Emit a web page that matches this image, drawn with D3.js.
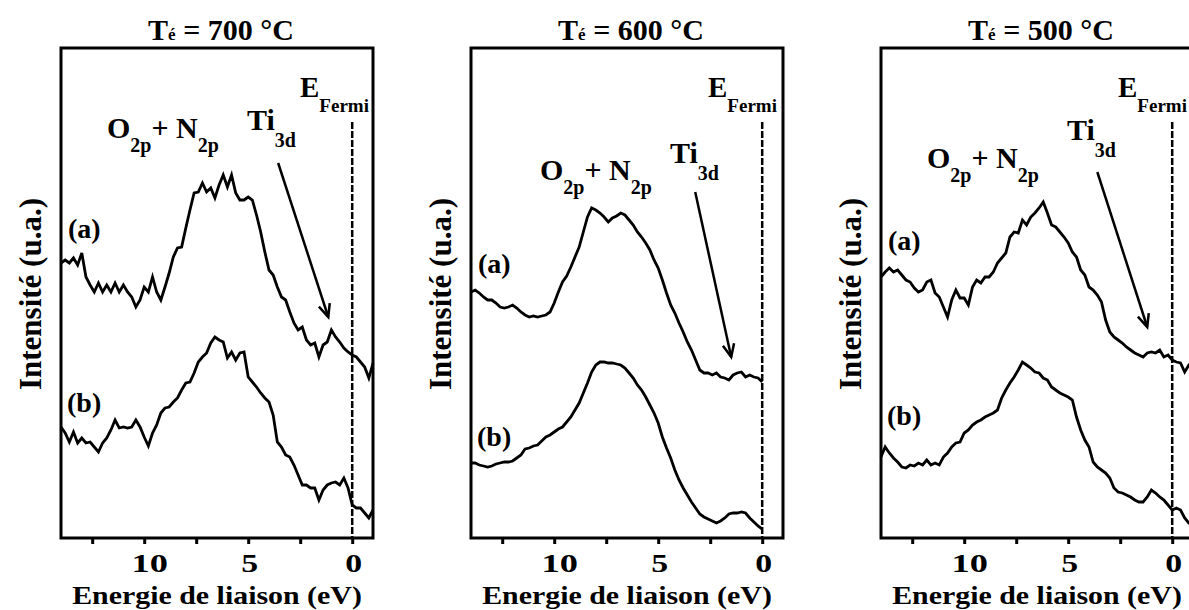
<!DOCTYPE html>
<html><head><meta charset="utf-8">
<script src="https://cdn.jsdelivr.net/npm/d3@7/dist/d3.min.js"></script>
<style>
html,body{margin:0;padding:0;background:#fff;}
text{font-family:"Liberation Serif","Times New Roman",serif;font-weight:bold;fill:#000;}
</style></head>
<body>
<svg id="chart" width="1189" height="610"></svg>
<script>
// ---------- data ----------
const energy = [14.0,13.8,13.6,13.4,13.2,13.0,12.8,12.6,12.4,12.2,12.0,11.8,11.6,11.4,11.2,11.0,10.8,10.6,10.4,10.2,10.0,9.8,9.6,9.4,9.2,9.0,8.8,8.6,8.4,8.2,8.0,7.8,7.6,7.4,7.2,7.0,6.8,6.6,6.4,6.2,6.0,5.8,5.6,5.4,5.2,5.0,4.8,4.6,4.4,4.2,4.0,3.8,3.6,3.4,3.2,3.0,2.8,2.6,2.4,2.2,2.0,1.8,1.6,1.4,1.2,1.0,0.8,0.6,0.4,0.2,0.0,-0.2,-0.4,-0.6,-0.8,-1.0];

const a700 = [275,278,275,280,273,285,261,253,246,255, 246,253,246,255,246,253,246,241,231,238, 251,246,261,246,238,251,265,281,290,291, 310,328,345,346,355,346,350,340,353,363, 351,363,345,338,338,341,338,323,306,286, 268,263,251,241,238,226,215,208,211,198, 193,195,181,193,196,208,201,196,190,186, 183,181,176,171,160,175];
const b700 = [111,105,96,106,95,100,95,96,91,86, 95,100,108,118,110,111,110,111,118,111, 101,92,105,113,125,130,131,136,140,148, 155,156,165,176,181,185,195,201,198,196, 180,186,178,185,186,161,156,151,145,140, 136,123,96,91,83,81,73,63,53,53, 50,50,38,48,53,55,56,53,60,50, 33,30,30,25,20,28];
const a600 = [246,248,245,241,238,238,235,231,230,231, 233,230,226,223,221,222,221,222,223,226, 235,246,256,262,271,281,291,306,321,330, 328,325,321,316,320,322,325,323,318,313, 306,301,295,288,278,270,258,245,233,225, 215,206,196,188,178,168,165,165,163,165, 161,160,158,163,165,166,161,163,161,160, 156,null,null,null,null,null];
const b600 = [75,75,73,72,71,72,74,75,76,76, 77,80,83,89,90,92,93,97,101,103, 106,109,111,116,121,128,135,145,155,166, 173,176,176,175,175,174,173,170,165,160, 153,148,141,133,125,115,101,90,80,68, 58,50,43,36,30,24,21,19,17,15, 17,20,24,25,25,26,25,20,16,12, 9,null,null,null,null,null];
const a500 = [261,266,270,266,268,263,258,256,250,246, 248,256,258,245,241,231,221,238,248,240, 240,233,251,258,255,261,261,266,275,280, 285,301,306,305,318,313,321,325,330,336, 325,313,311,306,301,295,286,281,268,263, 251,248,243,236,218,206,201,198,195,191, 188,185,183,181,185,186,185,188,181,183, 178,176,175,166,173,171];
const b500 = [81,91,85,80,76,71,70,73,72,75, 73,78,73,75,73,81,85,91,95,96, 105,108,113,116,118,121,123,125,128,140, 148,155,161,168,176,173,170,166,165,160, 158,151,148,145,143,141,138,121,108,98, 91,76,71,68,65,60,50,46,45,43, 41,38,36,36,41,48,45,41,38,33, 28,30,28,20,15,13];

const temperatures = ["700", "600", "500"];
const seriesA = [a700, a600, a500];
const seriesB = [b700, b600, b500];
const tickValues = [12.5, 10, 7.5, 5, 2.5, 0];
const tickLabels = {10: "10", 5: "5", 0: "0"};
// Ti3d arrow (start energy/intensity -> end energy/intensity)
const arrowFrom = [[3.56, 375], [3.22, 346], [3.60, 366]];
const arrowTo   = [[1.15, 221], [1.49, 181], [1.20, 211]];

// ---------- layout ----------
const svg = d3.select("#chart");
const panelLeft = [61, 471, 881];
const PW = 312, TOP = 48, BOTTOM = 538;
const layout = [
  {o:[46,138], ti:[186,130], e:[239,97], a:238, b:412},
  {o:[69,180], ti:[199,163], e:[237,97], a:273, b:446},
  {o:[46,168], ti:[186,140], e:[237,97], a:250, b:425}
];

temperatures.forEach((t, i) => {
  const L = panelLeft[i];
  const x = d3.scaleLinear().domain([14, -1]).range([L, L + PW]);
  const y = d3.scaleLinear().domain([0, 490]).range([BOTTOM, TOP]);
  const g = svg.append("g");
  const lay = layout[i];

  // title
  const tt = g.append("text").attr("x", L + PW/2 + 4).attr("y", 40)
    .attr("text-anchor", "middle").style("font-size", "30px");
  tt.append("tspan").text("T");
  tt.append("tspan").style("font-size", "17px").text("é");
  tt.append("tspan").text(" = " + t + " °C");

  // Fermi dashed line
  g.append("line").attr("x1", x(0)).attr("x2", x(0)).attr("y1", 122).attr("y2", BOTTOM)
    .attr("stroke", "#000").attr("stroke-width", 2.5).attr("stroke-dasharray", "7,2");

  // curves
  const line = d3.line().defined(d => d[1] !== null).x(d => x(d[0])).y(d => y(d[1]));
  [seriesA[i], seriesB[i]].forEach(s => {
    g.append("path").datum(energy.map((e, k) => [e, s[k]]))
      .attr("d", line).attr("fill", "none").attr("stroke", "#000")
      .attr("stroke-width", 2.8).attr("stroke-linejoin", "miter");
  });

  // frame
  g.append("rect").attr("x", L).attr("y", TOP).attr("width", PW).attr("height", BOTTOM - TOP)
    .attr("fill", "none").attr("stroke", "#000").attr("stroke-width", 3);

  // axis
  const ax = g.append("g").attr("transform", `translate(0,${BOTTOM})`)
    .call(d3.axisBottom(x).tickValues(tickValues).tickSizeInner(6).tickSizeOuter(0)
      .tickFormat(d => tickLabels[d] || ""));
  ax.select(".domain").remove();
  ax.selectAll(".tick line").attr("stroke", "#000").attr("stroke-width", 3);
  ax.selectAll(".tick text").attr("y", 0).attr("dy", 0)
    .attr("transform", d => d === 10 ? "translate(5,34) scale(1.4,1)" : "translate(1,34) scale(1.3,1)")
    .style("font-size", "26px").style("font-family", "Liberation Serif").style("font-weight", "bold");

  // x label
  g.append("text").attr("transform", `translate(${L + PW/2},604) scale(1.15,1)`)
    .attr("text-anchor", "middle").style("font-size", "26px").text("Energie de liaison (eV)");

  // y label
  g.append("text").attr("transform", `translate(${L - 20},${(TOP + BOTTOM)/2 + 1}) rotate(-90)`)
    .attr("text-anchor", "middle").style("font-size", "31px").text("Intensité (u.a.)");

  // (a) (b)
  g.append("text").attr("x", L + 7).attr("y", lay.a).style("font-size", "28px").text("(a)");
  g.append("text").attr("x", L + 6).attr("y", lay.b).style("font-size", "28px").text("(b)");

  // O2p + N2p
  const on = g.append("text").attr("x", L + lay.o[0]).attr("y", lay.o[1]).style("font-size", "30px");
  on.append("tspan").text("O");
  on.append("tspan").attr("dy", 14).style("font-size", "20px").text("2p");
  on.append("tspan").attr("dy", -14).text("+ N");
  on.append("tspan").attr("dy", 14).style("font-size", "20px").text("2p");

  // Ti3d
  const ti = g.append("text").attr("x", L + lay.ti[0]).attr("y", lay.ti[1]).style("font-size", "30px");
  ti.append("tspan").text("Ti");
  ti.append("tspan").attr("dy", 17).style("font-size", "20px").text("3d");

  // E Fermi
  const ef = g.append("text").attr("x", L + lay.e[0]).attr("y", lay.e[1]).style("font-size", "29px");
  ef.append("tspan").text("E");
  ef.append("tspan").attr("dy", 15).style("font-size", "19px").text("Fermi");

  // arrow
  const x1 = x(arrowFrom[i][0]), y1 = y(arrowFrom[i][1]);
  const x2 = x(arrowTo[i][0]), y2 = y(arrowTo[i][1]);
  g.append("line").attr("x1", x1).attr("y1", y1).attr("x2", x2).attr("y2", y2)
    .attr("stroke", "#000").attr("stroke-width", 2.5);
  const ang = Math.atan2(y2 - y1, x2 - x1);
  const hl = 14, ha = 0.42;
  const p1 = [x2 - hl*Math.cos(ang - ha), y2 - hl*Math.sin(ang - ha)];
  const p2 = [x2 - hl*Math.cos(ang + ha), y2 - hl*Math.sin(ang + ha)];
  g.append("path").attr("d", `M${p1[0]},${p1[1]}L${x2},${y2}L${p2[0]},${p2[1]}`)
    .attr("fill", "none").attr("stroke", "#000").attr("stroke-width", 2.5);
});
</script>
</body></html>
